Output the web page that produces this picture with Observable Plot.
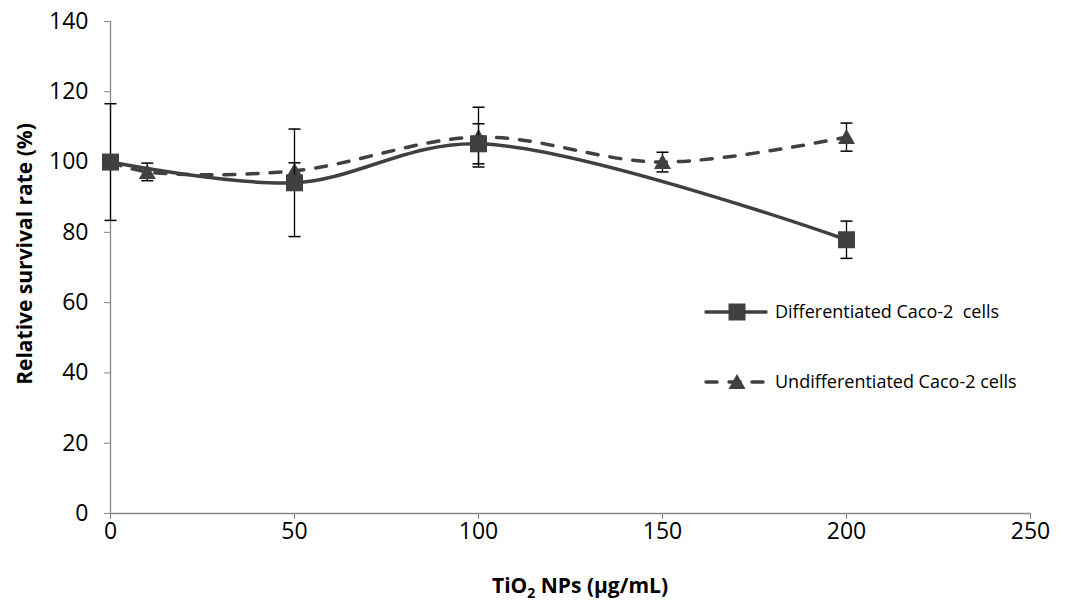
<!DOCTYPE html>
<html><head><meta charset="utf-8">
<script src="https://cdn.jsdelivr.net/npm/d3@7"></script>
<script src="https://cdn.jsdelivr.net/npm/@observablehq/plot@0.6"></script>
<style>
body{margin:0;background:#fff;}
#chart{position:relative;width:1077px;height:610px;font-family:"Open Sans",sans-serif;}
#chart svg{position:absolute;left:0;top:0;}
</style></head><body><div id="chart"></div>
<script>
const xTicks = [0, 50, 100, 150, 200, 250];
const yTicks = [0, 20, 40, 60, 80, 100, 120, 140];
const diffConc = [0, 50, 100, 200];
const diffMean = [100, 94.1, 105.2, 77.9];
const diffErr = [16.6, 15.3, 5.7, 5.3];
const undiffConc = [0, 10, 50, 100, 150, 200];
const undiffMean = [100, 97.2, 97.5, 107.1, 100, 107.1];
const undiffErr = [0, 2.5, 2.3, 8.5, 2.8, 4.0];
const seriesNames = ["Differentiated Caco-2  cells", "Undifferentiated Caco-2 cells"];
const yLabel = "Relative survival rate (%)";

const diff = diffConc.map((c, i) => ({c, v: diffMean[i], lo: diffMean[i] - diffErr[i], hi: diffMean[i] + diffErr[i]}));
const undiff = undiffConc.map((c, i) => ({c, v: undiffMean[i], lo: undiffMean[i] - undiffErr[i], hi: undiffMean[i] + undiffErr[i]}));
const undiffE = undiff.filter(d => d.hi > d.lo);

const sq = {draw(ctx){ ctx.rect(-8.5, -8.5, 17, 17); }};
const tri = {draw(ctx){ ctx.moveTo(0, -8); ctx.lineTo(8.5, 7); ctx.lineTo(-8.5, 7); ctx.closePath(); }};
const cap = {draw(ctx){ ctx.moveTo(-6, 0); ctx.lineTo(6, 0); }};
const col = "#404040";

const plot = Plot.plot({
  width: 1077, height: 610,
  marginLeft: 110, marginRight: 47, marginTop: 21, marginBottom: 97,
  style: {fontFamily: "Open Sans, sans-serif", fontSize: "20px", color: "#000", background: "transparent"},
  x: {domain: [0, 250]},
  y: {domain: [0, 140]},
  marks: [
    Plot.ruleX([0], {stroke: "#868686", strokeWidth: 1.3}),
    Plot.ruleY([0], {stroke: "#868686", strokeWidth: 1.3}),
    Plot.axisX({ticks: xTicks, tickSize: 6, tickPadding: 3, stroke: "#868686", label: null}),
    Plot.axisY({ticks: yTicks, tickSize: 6, tickPadding: 16, stroke: "#868686", label: null}),
    // undifferentiated
    Plot.line(undiff, {x: "c", y: "v", curve: "catmull-rom", stroke: col, strokeWidth: 3.5, strokeDasharray: "11,12", strokeLinecap: "round"}),
    Plot.ruleX(undiffE, {x: "c", y1: "lo", y2: "hi", stroke: "#000", strokeWidth: 1.3}),
    Plot.dot(undiffE, {x: "c", y: "lo", symbol: cap, stroke: "#000", strokeWidth: 1.5, r: 4}),
    Plot.dot(undiffE, {x: "c", y: "hi", symbol: cap, stroke: "#000", strokeWidth: 1.5, r: 4}),
    Plot.dot(undiff, {x: "c", y: "v", symbol: tri, fill: col, r: 5}),
    // differentiated
    Plot.line(diff, {x: "c", y: "v", curve: "catmull-rom", stroke: col, strokeWidth: 3.5}),
    Plot.ruleX(diff, {x: "c", y1: "lo", y2: "hi", stroke: "#000", strokeWidth: 1.3}),
    Plot.dot(diff, {x: "c", y: "lo", symbol: cap, stroke: "#000", strokeWidth: 1.5, r: 4}),
    Plot.dot(diff, {x: "c", y: "hi", symbol: cap, stroke: "#000", strokeWidth: 1.5, r: 4}),
    Plot.dot(diff, {x: "c", y: "v", symbol: sq, fill: col, r: 5})
  ]
});
document.getElementById("chart").appendChild(plot);

// labels and legend overlay
const svg = d3.select(plot);
svg.selectAll('[aria-label="x-axis tick label"], [aria-label="y-axis tick label"]')
  .attr("font-size", null).style("font-size", "23px");
svg.selectAll('[aria-label="x-axis tick label"] text, [aria-label="y-axis tick label"] text')
  .style("font-size", "23px");
const xl = svg.append("text").attr("x", 580).attr("y", 593).attr("text-anchor", "middle")
  .attr("font-weight", "bold").attr("font-size", 21).attr("fill", "#000");
xl.append("tspan").text("TiO");
xl.append("tspan").text("2").attr("font-size", 14).attr("dy", 5);
xl.append("tspan").text(" NPs (µg/mL)").attr("dy", -5);

svg.append("text").attr("transform", "translate(32,254) rotate(-90)").attr("text-anchor", "middle")
  .attr("font-weight", "bold").attr("font-size", 21).attr("fill", "#000").text(yLabel);

const leg = svg.append("g");
const items = [
  {name: seriesNames[0], y: 312, dash: null, sym: "sq"},
  {name: seriesNames[1], y: 382, dash: "11,12", sym: "tri"}
];
items.forEach(it => {
  leg.append("line").attr("x1", 706).attr("x2", 766).attr("y1", it.y).attr("y2", it.y)
    .attr("stroke", col).attr("stroke-width", 3.5).attr("stroke-linecap", "round")
    .attr("stroke-dasharray", it.dash);
  if (it.sym === "sq") leg.append("rect").attr("x", 737 - 8.5).attr("y", it.y - 8.5).attr("width", 17).attr("height", 17).attr("fill", col);
  else leg.append("path").attr("d", `M737,${it.y-8}L745.5,${it.y+7}L728.5,${it.y+7}Z`).attr("fill", col);
  leg.append("text").attr("x", 775).attr("y", it.y).attr("dy", "0.35em").attr("font-size", 18)
    .attr("text-anchor", "start").attr("fill", "#000").style("white-space", "pre").text(it.name);
});
</script>
</body></html>
